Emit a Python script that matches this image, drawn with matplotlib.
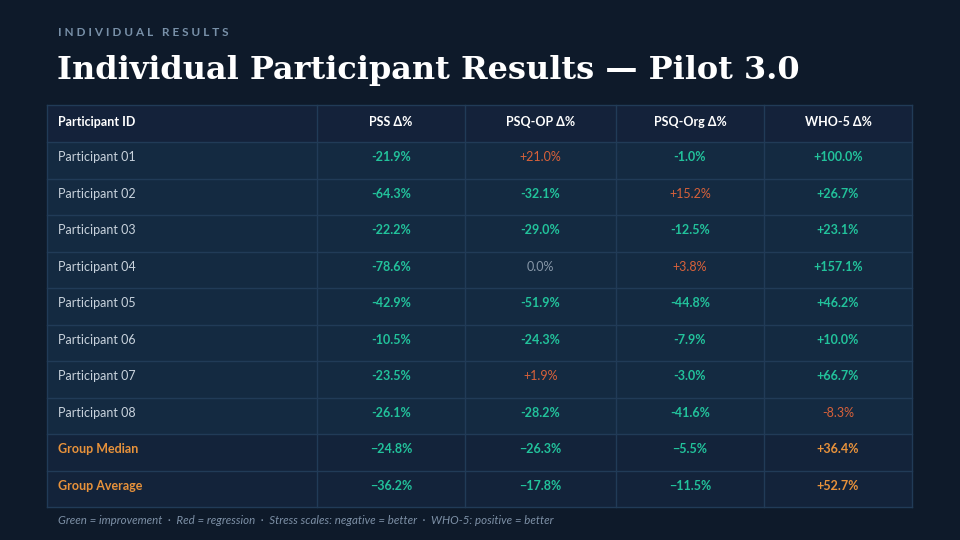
import matplotlib
matplotlib.use("Agg")
import matplotlib.pyplot as plt
from matplotlib.patches import Rectangle

# ---------------- data ----------------
columns = ["Participant ID", "PSS Δ%", "PSQ-OP Δ%", "PSQ-Org Δ%", "WHO-5 Δ%"]
participants = ["Participant 01", "Participant 02", "Participant 03", "Participant 04",
                "Participant 05", "Participant 06", "Participant 07", "Participant 08"]
pss = [-21.9, -64.3, -22.2, -78.6, -42.9, -10.5, -23.5, -26.1]
psq_op = [21.0, -32.1, -29.0, 0.0, -51.9, -24.3, 1.9, -28.2]
psq_org = [-1.0, 15.2, -12.5, 3.8, -44.8, -7.9, -3.0, -41.6]
who5 = [100.0, 26.7, 23.1, 157.1, 46.2, 10.0, 66.7, -8.3]
summary_labels = ["Group Median", "Group Average"]
summary_pss = [-24.8, -36.2]
summary_psq_op = [-26.3, -17.8]
summary_psq_org = [-5.5, -11.5]
summary_who5 = [36.4, 52.7]
# stress scales: negative = better ; WHO-5: positive = better
higher_is_better = [False, False, False, True]

# ---------------- style ----------------
BG = "#0e1a2a"
HEADER_BG = "#14223a"
ROW_BG = "#142a41"
SUM_BG = "#13233a"
GRID = "#213b57"
GREEN = "#22c29b"
RED = "#d8613a"
GRAY = "#8797a8"
ORANGE = "#e8923a"
LABEL = "#c9d3dd"
SANS = ["Lato", "DejaVu Sans"]

fig = plt.figure(figsize=(9.6, 5.4), dpi=100)
fig.patch.set_facecolor(BG)
ax = fig.add_axes([0, 0, 1, 1])
ax.set_xlim(0, 960)
ax.set_ylim(540, 0)
ax.axis("off")
ax.set_facecolor(BG)

# headings
ax.text(58, 32, "I N D I V I D U A L   R E S U L T S", color="#7890a8",
        fontsize=8.5, fontweight="bold", family=SANS, va="center", ha="left")
ax.text(57, 70, "Individual Participant Results — Pilot 3.0", color="white",
        fontsize=23, fontweight="bold", family=["DejaVu Serif"], va="center", ha="left")

# table geometry
col_edges = [47, 317, 465, 616, 764, 912]
top = 105
header_h = 37
row_h = 36.5
n_rows = len(participants) + len(summary_labels)
bottom = top + header_h + n_rows * row_h

# backgrounds
ax.add_patch(Rectangle((col_edges[0], top), col_edges[-1] - col_edges[0], header_h,
                       facecolor=HEADER_BG, edgecolor="none", zorder=1))
for i in range(n_rows):
    y0 = top + header_h + i * row_h
    fc = ROW_BG if i < len(participants) else SUM_BG
    ax.add_patch(Rectangle((col_edges[0], y0), col_edges[-1] - col_edges[0], row_h,
                           facecolor=fc, edgecolor="none", zorder=1))

# grid lines
for x in col_edges:
    ax.plot([x, x], [top, bottom], color=GRID, lw=1.0, zorder=2)
ys = [top, top + header_h] + [top + header_h + (i + 1) * row_h for i in range(n_rows)]
for y in ys:
    ax.plot([col_edges[0], col_edges[-1]], [y, y], color=GRID, lw=1.0, zorder=2)

# header text
hy = top + header_h / 2 - 2
ax.text(58, hy, columns[0], color="white", fontsize=9, fontweight="bold",
        family=SANS, ha="left", va="center", zorder=3)
for j in range(1, len(columns)):
    cx = (col_edges[j] + col_edges[j + 1]) / 2
    ax.text(cx, hy, columns[j], color="white", fontsize=9, fontweight="bold",
            family=SANS, ha="center", va="center", zorder=3)


def fmt(v, minus="-"):
    if v > 0:
        return f"+{v:.1f}%"
    if v < 0:
        return f"{minus}{abs(v):.1f}%"
    return f"{v:.1f}%"


data_cols = [pss, psq_op, psq_org, who5]
for i, name in enumerate(participants):
    cy = top + header_h + i * row_h + row_h / 2 - 3
    ax.text(58, cy, name, color=LABEL, fontsize=9, family=SANS,
            ha="left", va="center", zorder=3)
    for j, col in enumerate(data_cols):
        v = col[i]
        cx = (col_edges[j + 1] + col_edges[j + 2]) / 2
        good = (v > 0) if higher_is_better[j] else (v < 0)
        if v == 0:
            color, weight = GRAY, "normal"
        elif good:
            color, weight = GREEN, "bold"
        else:
            color, weight = RED, "normal"
        ax.text(cx, cy, fmt(v), color=color, fontsize=9, fontweight=weight,
                family=SANS, ha="center", va="center", zorder=3)

summary_cols = [summary_pss, summary_psq_op, summary_psq_org, summary_who5]
for k, name in enumerate(summary_labels):
    i = len(participants) + k
    cy = top + header_h + i * row_h + row_h / 2 - 3
    ax.text(58, cy, name, color=ORANGE, fontsize=9, fontweight="bold", family=SANS,
            ha="left", va="center", zorder=3)
    for j, col in enumerate(summary_cols):
        v = col[k]
        cx = (col_edges[j + 1] + col_edges[j + 2]) / 2
        color = ORANGE if higher_is_better[j] else GREEN
        ax.text(cx, cy, fmt(v, minus="\u2212"), color=color, fontsize=9,
                fontweight="bold", family=SANS, ha="center", va="center", zorder=3)

# footnote
ax.text(58, 521, "Green = improvement  ·  Red = regression  ·  Stress scales: negative = better  ·  WHO-5: positive = better",
        color="#7d90a6", fontsize=8.3, style="italic", family=SANS,
        ha="left", va="center", zorder=3)

fig.savefig("out.png", dpi=100, facecolor=BG)
